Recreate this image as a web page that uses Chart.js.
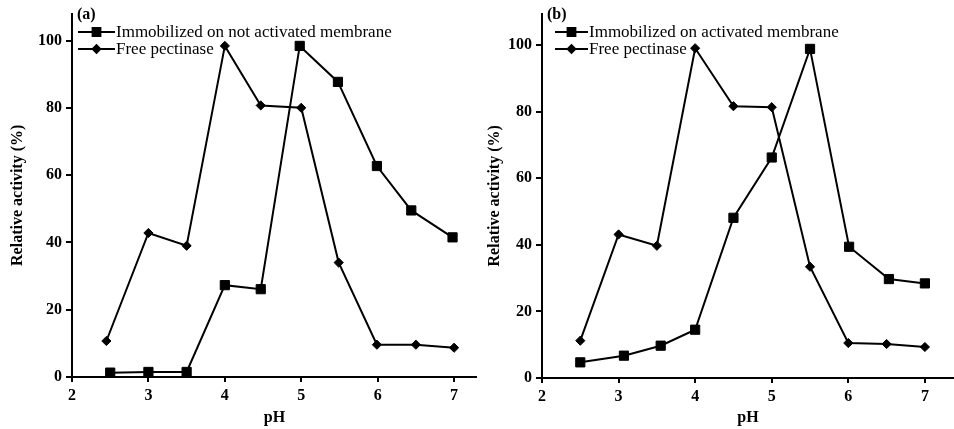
<!DOCTYPE html>
<html>
<head>
<meta charset="utf-8">
<script src="https://cdn.jsdelivr.net/npm/chart.js@4/dist/chart.umd.min.js"></script>
<style>
  html, body { margin: 0; padding: 0; background: #fff; }
  #wrap { position: relative; width: 954px; height: 429px; }
  canvas { position: absolute; top: 0; }
</style>
</head>
<body>
<div id="wrap">
  <canvas id="chartA" width="477" height="429" style="left:0"></canvas>
  <canvas id="chartB" width="477" height="429" style="left:477px"></canvas>
</div>
<script>
// pH values and relative activity (%) for both panels
const phImmA = [2.5, 3, 3.5, 4, 4.47, 4.98, 5.48, 5.99, 6.44, 6.98];
const actImmA = [1.3, 1.5, 1.5, 27.3, 26.1, 98.4, 87.7, 62.7, 49.5, 41.5];
const phFreeA = [2.45, 3, 3.5, 4, 4.47, 5, 5.49, 5.99, 6.5, 7];
const actFreeA = [10.7, 42.8, 39, 98.4, 80.7, 80, 34, 9.6, 9.6, 8.7];

const phImmB = [2.5, 3.07, 3.55, 4, 4.5, 5, 5.5, 6.01, 6.53, 7];
const actImmB = [4.7, 6.7, 9.7, 14.5, 48.1, 66.2, 98.8, 39.4, 29.7, 28.4];
const phFreeB = [2.5, 3, 3.5, 4, 4.5, 5, 5.5, 6, 6.5, 7];
const actFreeB = [11.2, 43.1, 39.7, 99, 81.6, 81.3, 33.4, 10.5, 10.2, 9.3];

const xTicks = [2, 3, 4, 5, 6, 7];
const yTicks = [0, 20, 40, 60, 80, 100];

const labelA = "(a)";
const labelB = "(b)";
const immNameA = "Immobilized on not activated membrane";
const immNameB = "Immobilized on activated membrane";
const freeName = "Free pectinase";

const SERIF = "'Liberation Serif', 'Times New Roman', serif";

function pts(xs, ys) {
  return xs.map((x, i) => ({ x: x, y: ys[i] }));
}

// little legend + panel tag drawn inside the plot, top-left
const panelLegend = {
  id: "panelLegend",
  afterDraw(chart, args, opts) {
    const ctx = chart.ctx;
    ctx.save();
    ctx.fillStyle = "#000";
    ctx.textBaseline = "middle";
    ctx.font = "bold 16px " + SERIF;
    ctx.fillText(opts.tag, opts.tagX, opts.tagY);
    ctx.font = "17px " + SERIF;
    chart.data.datasets.forEach((ds, i) => {
      const y = opts.y + i * opts.gap;
      ctx.strokeStyle = "#000";
      ctx.lineWidth = 2;
      ctx.beginPath();
      ctx.moveTo(opts.x, y);
      ctx.lineTo(opts.x + opts.len, y);
      ctx.stroke();
      Chart.helpers.drawPoint(ctx, {
        pointStyle: ds.pointStyle,
        radius: ds.pointStyle === "rect" ? 5.5 : 3.8,
        borderWidth: 1
      }, opts.x + opts.len / 2, y);
      ctx.fillStyle = "#000";
      ctx.fillText(ds.label, opts.x + opts.len + 1, y + 1);
    });
    ctx.restore();
  }
};

function makeChart(id, imm, free, xMax, yMax, yWidth, xHeight, legend) {
  return new Chart(document.getElementById(id), {
    type: "line",
    data: {
      datasets: [
        {
          label: imm.name,
          data: imm.data,
          borderColor: "#000",
          backgroundColor: "#000",
          borderWidth: 2,
          pointStyle: "rect",
          pointRadius: 6.5,
          pointBorderWidth: 1,
          tension: 0
        },
        {
          label: free.name,
          data: free.data,
          borderColor: "#000",
          backgroundColor: "#000",
          borderWidth: 2,
          pointStyle: "rectRot",
          pointRadius: 4.6,
          pointBorderWidth: 1,
          tension: 0
        }
      ]
    },
    options: {
      responsive: false,
      animation: false,
      layout: { autoPadding: false, padding: { top: 13, right: 0, left: 0, bottom: 0 } },
      plugins: {
        legend: { display: false },
        tooltip: { enabled: false },
        panelLegend: legend
      },
      scales: {
        x: {
          type: "linear",
          min: 2,
          max: xMax,
          afterBuildTicks: (s) => { s.ticks = xTicks.map(v => ({ value: v })); },
          afterFit: (s) => { s.height = xHeight; s.paddingLeft = 0; s.paddingRight = 0; },
          border: { color: "#000", width: 2 },
          grid: { drawOnChartArea: false, drawTicks: true, tickLength: 5, color: "#000", lineWidth: 2 },
          ticks: { color: "#000", padding: 4, font: { family: SERIF, size: 16, weight: "bold" } },
          title: {
            display: true, text: "pH", color: "#000",
            padding: { top: 0, bottom: 2 },
            font: { family: SERIF, size: 16, weight: "bold" }
          }
        },
        y: {
          min: 0,
          max: yMax,
          afterBuildTicks: (s) => { s.ticks = yTicks.map(v => ({ value: v })); },
          afterFit: (s) => { s.width = yWidth; },
          border: { color: "#000", width: 2 },
          grid: { drawOnChartArea: false, drawTicks: true, tickLength: 6, color: "#000", lineWidth: 2 },
          ticks: { color: "#000", padding: 4, font: { family: SERIF, size: 16, weight: "bold" } },
          title: {
            display: true, text: "Relative activity (%)", color: "#000",
            padding: { top: 8, bottom: 0 },
            font: { family: SERIF, size: 16, weight: "bold" }
          }
        }
      }
    },
    plugins: [panelLegend]
  });
}

makeChart("chartA",
  { name: immNameA, data: pts(phImmA, actImmA) },
  { name: freeName, data: pts(phFreeA, actFreeA) },
  7.3, 108, 72, 52,
  { tag: labelA, tagX: 77, tagY: 15, x: 78, y: 32, gap: 17, len: 37 });

makeChart("chartB",
  { name: immNameB, data: pts(phImmB, actImmB) },
  { name: freeName, data: pts(phFreeB, actFreeB) },
  7.38, 109.4, 65, 51,
  { tag: labelB, tagX: 70, tagY: 15, x: 78, y: 32, gap: 17, len: 33 });
</script>
</body>
</html>
